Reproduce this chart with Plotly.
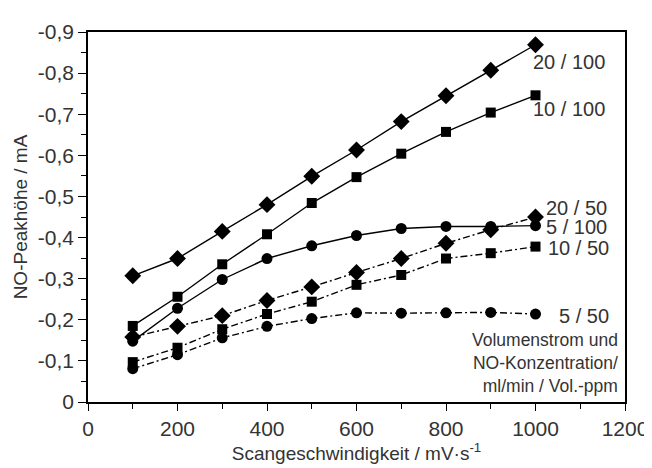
import plotly.graph_objects as go

x_scan = [100, 200, 300, 400, 500, 600, 700, 800, 900, 1000]

s_20_100 = [-0.307, -0.349, -0.415, -0.480, -0.549, -0.613, -0.682, -0.745, -0.807, -0.869]
s_10_100 = [-0.185, -0.256, -0.335, -0.408, -0.484, -0.547, -0.604, -0.657, -0.704, -0.746]
s_5_100 = [-0.148, -0.228, -0.298, -0.349, -0.380, -0.405, -0.422, -0.427, -0.427, -0.429]
s_20_50 = [-0.158, -0.184, -0.210, -0.247, -0.280, -0.315, -0.349, -0.386, -0.419, -0.450]
s_10_50 = [-0.097, -0.132, -0.177, -0.214, -0.244, -0.285, -0.309, -0.349, -0.362, -0.378]
s_5_50 = [-0.081, -0.115, -0.156, -0.184, -0.203, -0.217, -0.216, -0.217, -0.218, -0.214]

y_tickvals = [0, -0.1, -0.2, -0.3, -0.4, -0.5, -0.6, -0.7, -0.8, -0.9]
y_ticktext = ["0", "-0,1", "-0,2", "-0,3", "-0,4", "-0,5", "-0,6", "-0,7", "-0,8", "-0,9"]
y_minor = [-0.05, -0.15, -0.25, -0.35, -0.45, -0.55, -0.65, -0.75, -0.85]
x_tickvals = [0, 200, 400, 600, 800, 1000, 1200]
x_minor = [100, 300, 500, 700, 900, 1100]

series = [
    ("20 / 100", s_20_100, "diamond", "solid", 13),
    ("10 / 100", s_10_100, "square", "solid", 10),
    ("5 / 100", s_5_100, "circle", "solid", 11),
    ("20 / 50", s_20_50, "diamond", "dashdot", 13),
    ("10 / 50", s_10_50, "square", "dashdot", 10),
    ("5 / 50", s_5_50, "circle", "dashdot", 11),
]

fig = go.Figure()
for name, ys, sym, dash, sz in series:
    fig.add_trace(go.Scatter(
        x=x_scan, y=ys, mode="lines+markers", name=name,
        line=dict(color="black", width=1.4, dash=("7px,3px,2px,3px" if dash == "dashdot" else "solid")),
        marker=dict(symbol=sym, size=sz, color="black"),
    ))

txt_color = "#333333"
font_family = "Liberation Sans, Arial, sans-serif"

labels = [
    ("20 / 100", 989, -0.826),
    ("10 / 100", 989, -0.712),
    ("20 / 50", 1020, -0.472),
    ("5 / 100", 1020, -0.425),
    ("10 / 50", 1024, -0.374),
    ("5 / 50", 1049, -0.210),
]
for t, xx, yy in labels:
    fig.add_annotation(x=xx, y=yy, text=t, showarrow=False, xanchor="left", yanchor="middle",
                       font=dict(size=20, color=txt_color, family=font_family))

fig.add_annotation(x=1188, y=-0.094, text="Volumenstrom und<br>NO-Konzentration/<br>ml/min / Vol.-ppm",
                   showarrow=False, xanchor="right", yanchor="middle", align="right",
                   font=dict(size=17.5, color=txt_color, family=font_family))

fig.update_layout(
    width=652, height=468,
    margin=dict(l=79, r=32, t=12, b=74),
    paper_bgcolor="white", plot_bgcolor="white",
    showlegend=False,
    font=dict(family=font_family, color=txt_color, size=21),
    xaxis=dict(
        range=[0, 1200], tickmode="array", tickvals=x_tickvals,
        ticks="outside", ticklen=7, tickwidth=1.2, tickcolor="black",
        minor=dict(tickmode="array", tickvals=x_minor, ticks="outside", ticklen=5, tickcolor="black"),
        showline=True, linecolor="black", linewidth=1.5, mirror=True,
        showgrid=False, zeroline=False,
        title=dict(text="Scangeschwindigkeit / mV·s<sup>-1</sup>", font=dict(size=19), standoff=4),
        tickfont=dict(size=21),
    ),
    yaxis=dict(
        range=[0, -0.9], tickmode="array", tickvals=y_tickvals, ticktext=y_ticktext,
        ticks="outside", ticklen=8, tickwidth=1.2, tickcolor="black",
        minor=dict(tickmode="array", tickvals=y_minor, ticks="outside", ticklen=5, tickcolor="black"),
        showline=True, linecolor="black", linewidth=1.5, mirror=True,
        showgrid=False, zeroline=False,
        title=dict(text="NO-Peakhöhe / mA", font=dict(size=19), standoff=5),
        tickfont=dict(size=21),
    ),
)

fig.write_html("out.html")
